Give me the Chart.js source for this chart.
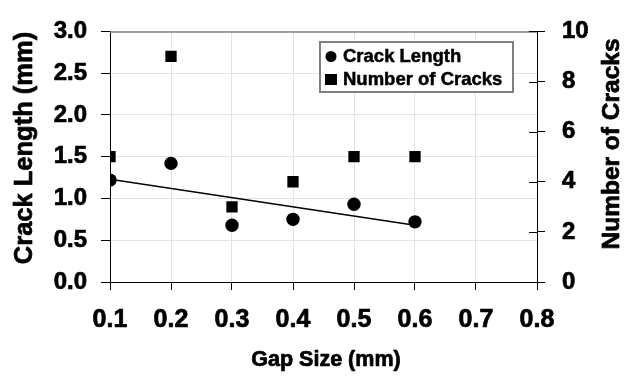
<!DOCTYPE html>
<html>
<head>
<meta charset="utf-8">
<script src="https://cdn.jsdelivr.net/npm/chart.js@4/dist/chart.umd.min.js"></script>
<style>
  html, body { margin: 0; padding: 0; background: #fff; }
  #wrap { width: 627px; height: 377px; position: relative; }
</style>
</head>
<body>
<div id="wrap"><canvas id="c" width="627" height="377"></canvas></div>
<script>
// Gap sizes (mm) tested
const gapSizes = [0.1, 0.2, 0.3, 0.4, 0.5, 0.6];
// Mean crack length (mm) at each gap size
const crackLength = [1.22, 1.42, 0.68, 0.75, 0.93, 0.72];
// Number of cracks observed at each gap size
const crackCount = [5, 9, 3, 4, 5, 5];
// Linear trend of crack length: end points at the first and last gap size
const trendX = [0.1, 0.6];
const trendY = [1.23, 0.68];
// Axis ranges and steps
const xRange = [0.1, 0.8, 0.1];
const yLeftRange = [0, 3, 0.5];
const yRightRange = [0, 10, 2];
const legendLabels = ['Crack Length', 'Number of Cracks'];
const axisTitles = { x: 'Gap Size (mm)', y: 'Crack Length (mm)', y2: 'Number of Cracks' };

const FONT = 'Arial, "Liberation Sans", sans-serif';
const STROKE = 0.7;

const toXY = (xs, ys) => xs.map((x, i) => ({ x: x, y: ys[i] }));

function boldText(ctx, text, x, y, size, rot) {
  ctx.save();
  ctx.translate(x, y);
  if (rot) ctx.rotate(rot);
  ctx.font = 'bold ' + size + 'px ' + FONT;
  ctx.textAlign = 'center';
  ctx.textBaseline = 'middle';
  ctx.fillStyle = '#000';
  ctx.strokeStyle = '#000';
  ctx.lineWidth = STROKE;
  ctx.lineJoin = 'round';
  ctx.fillText(text, 0, 0);
  ctx.strokeText(text, 0, 0);
  ctx.restore();
}

// Frame details: grey top border, inward half of the right-axis ticks,
// axis titles (both vertical titles read bottom-to-top) and the legend box
const framePlugin = {
  id: 'frame',
  afterDatasetsDraw(chart) {
    const { ctx, chartArea: a, scales } = chart;
    ctx.save();
    ctx.strokeStyle = '#7f7f7f';
    ctx.lineWidth = 1.5;
    ctx.beginPath();
    ctx.moveTo(a.left, a.top + 0.5);
    ctx.lineTo(a.right, a.top + 0.5);
    ctx.stroke();

    ctx.strokeStyle = '#000';
    ctx.lineWidth = 1;
    const y2 = scales.y2;
    y2.ticks.forEach(t => {
      const py = Math.round(y2.getPixelForValue(t.value)) + 0.5;
      ctx.beginPath();
      ctx.moveTo(a.right - 8, py);
      ctx.lineTo(a.right, py);
      ctx.stroke();
    });
    ctx.restore();
  },
  afterDraw(chart) {
    const { ctx } = chart;

    boldText(ctx, axisTitles.y, 25, 148, 25.5, -Math.PI / 2);
    boldText(ctx, axisTitles.y2, 612, 144, 24.5, -Math.PI / 2);
    boldText(ctx, axisTitles.x, 326, 360, 21.5, 0);

    const bx = 320, by = 42, bw = 193, bh = 50;
    ctx.save();
    ctx.fillStyle = '#fff';
    ctx.fillRect(bx, by, bw, bh);
    ctx.strokeStyle = '#808080';
    ctx.lineWidth = 2;
    ctx.strokeRect(bx, by, bw, bh);
    ctx.fillStyle = '#000';
    ctx.beginPath();
    ctx.arc(bx + 11, by + 14.5, 5.5, 0, Math.PI * 2);
    ctx.fill();
    ctx.fillRect(bx + 5, by + 32, 12, 11);
    ctx.font = 'bold 18.5px ' + FONT;
    ctx.textBaseline = 'middle';
    ctx.textAlign = 'left';
    ctx.strokeStyle = '#000';
    ctx.lineWidth = 0.5;
    ctx.fillText(legendLabels[0], bx + 23, by + 14.5);
    ctx.strokeText(legendLabels[0], bx + 23, by + 14.5);
    ctx.fillText(legendLabels[1], bx + 23, by + 38);
    ctx.strokeText(legendLabels[1], bx + 23, by + 38);
    ctx.restore();
  }
};

const tickFont = size => ({ family: FONT, size: size, weight: 'bold' });

new Chart(document.getElementById('c'), {
  data: {
    datasets: [
      {
        type: 'line',
        label: 'trend',
        data: toXY(trendX, trendY),
        yAxisID: 'y',
        borderColor: '#000',
        borderWidth: 1.5,
        pointRadius: 0,
        fill: false,
        order: 3
      },
      {
        type: 'scatter',
        label: legendLabels[0],
        data: toXY(gapSizes, crackLength),
        yAxisID: 'y',
        pointStyle: 'circle',
        pointRadius: 6.7,
        backgroundColor: '#000',
        borderColor: '#000',
        borderWidth: 0,
        order: 1
      },
      {
        type: 'scatter',
        label: legendLabels[1],
        data: toXY(gapSizes, crackCount),
        yAxisID: 'y2',
        pointStyle: 'rect',
        pointRadius: 8,
        backgroundColor: '#000',
        borderColor: '#000',
        borderWidth: 0,
        order: 2
      }
    ]
  },
  options: {
    responsive: false,
    animation: false,
    events: [],
    layout: { padding: { top: 20, left: 0, right: 0, bottom: 0 } },
    plugins: { legend: { display: false }, tooltip: { enabled: false } },
    scales: {
      x: {
        type: 'linear',
        position: 'bottom',
        min: xRange[0], max: xRange[1],
        afterBuildTicks(s) {
          const t = [];
          for (let v = xRange[0]; v <= xRange[1] + 1e-9; v += xRange[2]) t.push({ value: Math.round(v * 10) / 10 });
          s.ticks = t;
        },
        afterFit(s) { s.height = 95; },
        grid: { color: '#e3e3e3', tickColor: '#000', tickLength: 8, lineWidth: 1 },
        border: { color: '#000', width: 1 },
        ticks: {
          padding: 15,
          color: '#000',
          textStrokeColor: '#000',
          textStrokeWidth: STROKE,
          font: tickFont(25),
          callback: v => Number(v).toFixed(1)
        }
      },
      y: {
        type: 'linear',
        position: 'left',
        min: yLeftRange[0], max: yLeftRange[1],
        ticks: {
          stepSize: yLeftRange[2],
          padding: 14,
          color: '#000',
          textStrokeColor: '#000',
          textStrokeWidth: STROKE,
          font: tickFont(24),
          callback: v => Number(v).toFixed(1)
        },
        afterFit(s) { s.width = 110; },
        grid: { color: '#e3e3e3', tickColor: '#000', tickLength: 9, lineWidth: 1 },
        border: { color: '#000', width: 1 }
      },
      y2: {
        type: 'linear',
        position: 'right',
        min: yRightRange[0], max: yRightRange[1],
        ticks: {
          stepSize: yRightRange[2],
          padding: 17,
          color: '#000',
          textStrokeColor: '#000',
          textStrokeWidth: STROKE,
          font: tickFont(24),
          callback: v => String(v)
        },
        afterFit(s) { s.width = 90; },
        grid: { drawOnChartArea: false, tickColor: '#000', tickLength: 8 },
        border: { color: '#000', width: 1 }
      }
    }
  },
  plugins: [framePlugin]
});
</script>
</body>
</html>
